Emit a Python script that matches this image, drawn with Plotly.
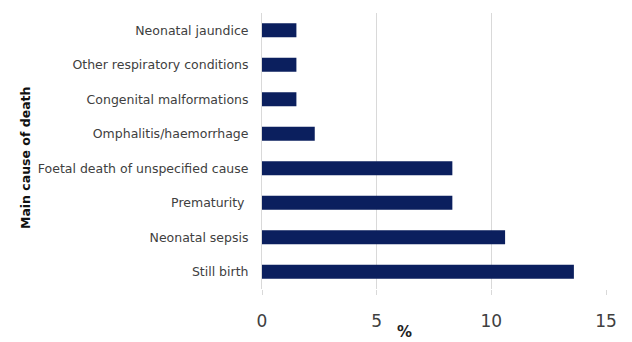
import plotly.graph_objects as go

causes = ["Still birth", "Neonatal sepsis", "Prematurity ", "Foetal death of unspecified cause",
          "Omphalitis/haemorrhage", "Congenital malformations", "Other respiratory conditions",
          "Neonatal jaundice"]
percent = [13.6, 10.6, 8.3, 8.3, 2.3, 1.5, 1.5, 1.5]
x_ticks = [0, 5, 10, 15]

fig = go.Figure(go.Bar(
    x=percent, y=causes, orientation="h",
    marker=dict(color="#0b1f5e", line=dict(width=0)),
))
fig.update_layout(
    width=632, height=342,
    margin=dict(l=262, r=26, t=13, b=53),
    plot_bgcolor="white", paper_bgcolor="white",
    bargap=0.6, showlegend=False,
    font=dict(family="DejaVu Sans", color="#404040"),
    annotations=[
        dict(text="<b>Main cause of death</b>", xref="paper", yref="paper",
             x=-0.689, y=0.478, xanchor="center", yanchor="middle", textangle=-90,
             showarrow=False, font=dict(size=12.5, color="#111")),
        dict(text="<b>%</b>", xref="paper", yref="paper",
             x=0.413, y=-0.155, xanchor="center", yanchor="middle",
             showarrow=False, font=dict(size=15, color="#222")),
    ],
)
fig.update_xaxes(
    range=[0, 15], tickvals=x_ticks, showgrid=True, gridcolor="#d9d9d9", gridwidth=1,
    zeroline=False, showline=False, ticks="outside", ticklen=5, tickcolor="#d9d9d9",
    ticklabelstandoff=12, automargin=False,
    tickfont=dict(size=17, color="#404040"),
)
fig.update_yaxes(
    categoryorder="array", categoryarray=causes,
    showline=True, linecolor="#d9d9d9", showgrid=False,
    ticks="", ticklabelstandoff=10, automargin=False,
    tickfont=dict(size=12.5, color="#404040"),
)
fig.write_html("out.html")
